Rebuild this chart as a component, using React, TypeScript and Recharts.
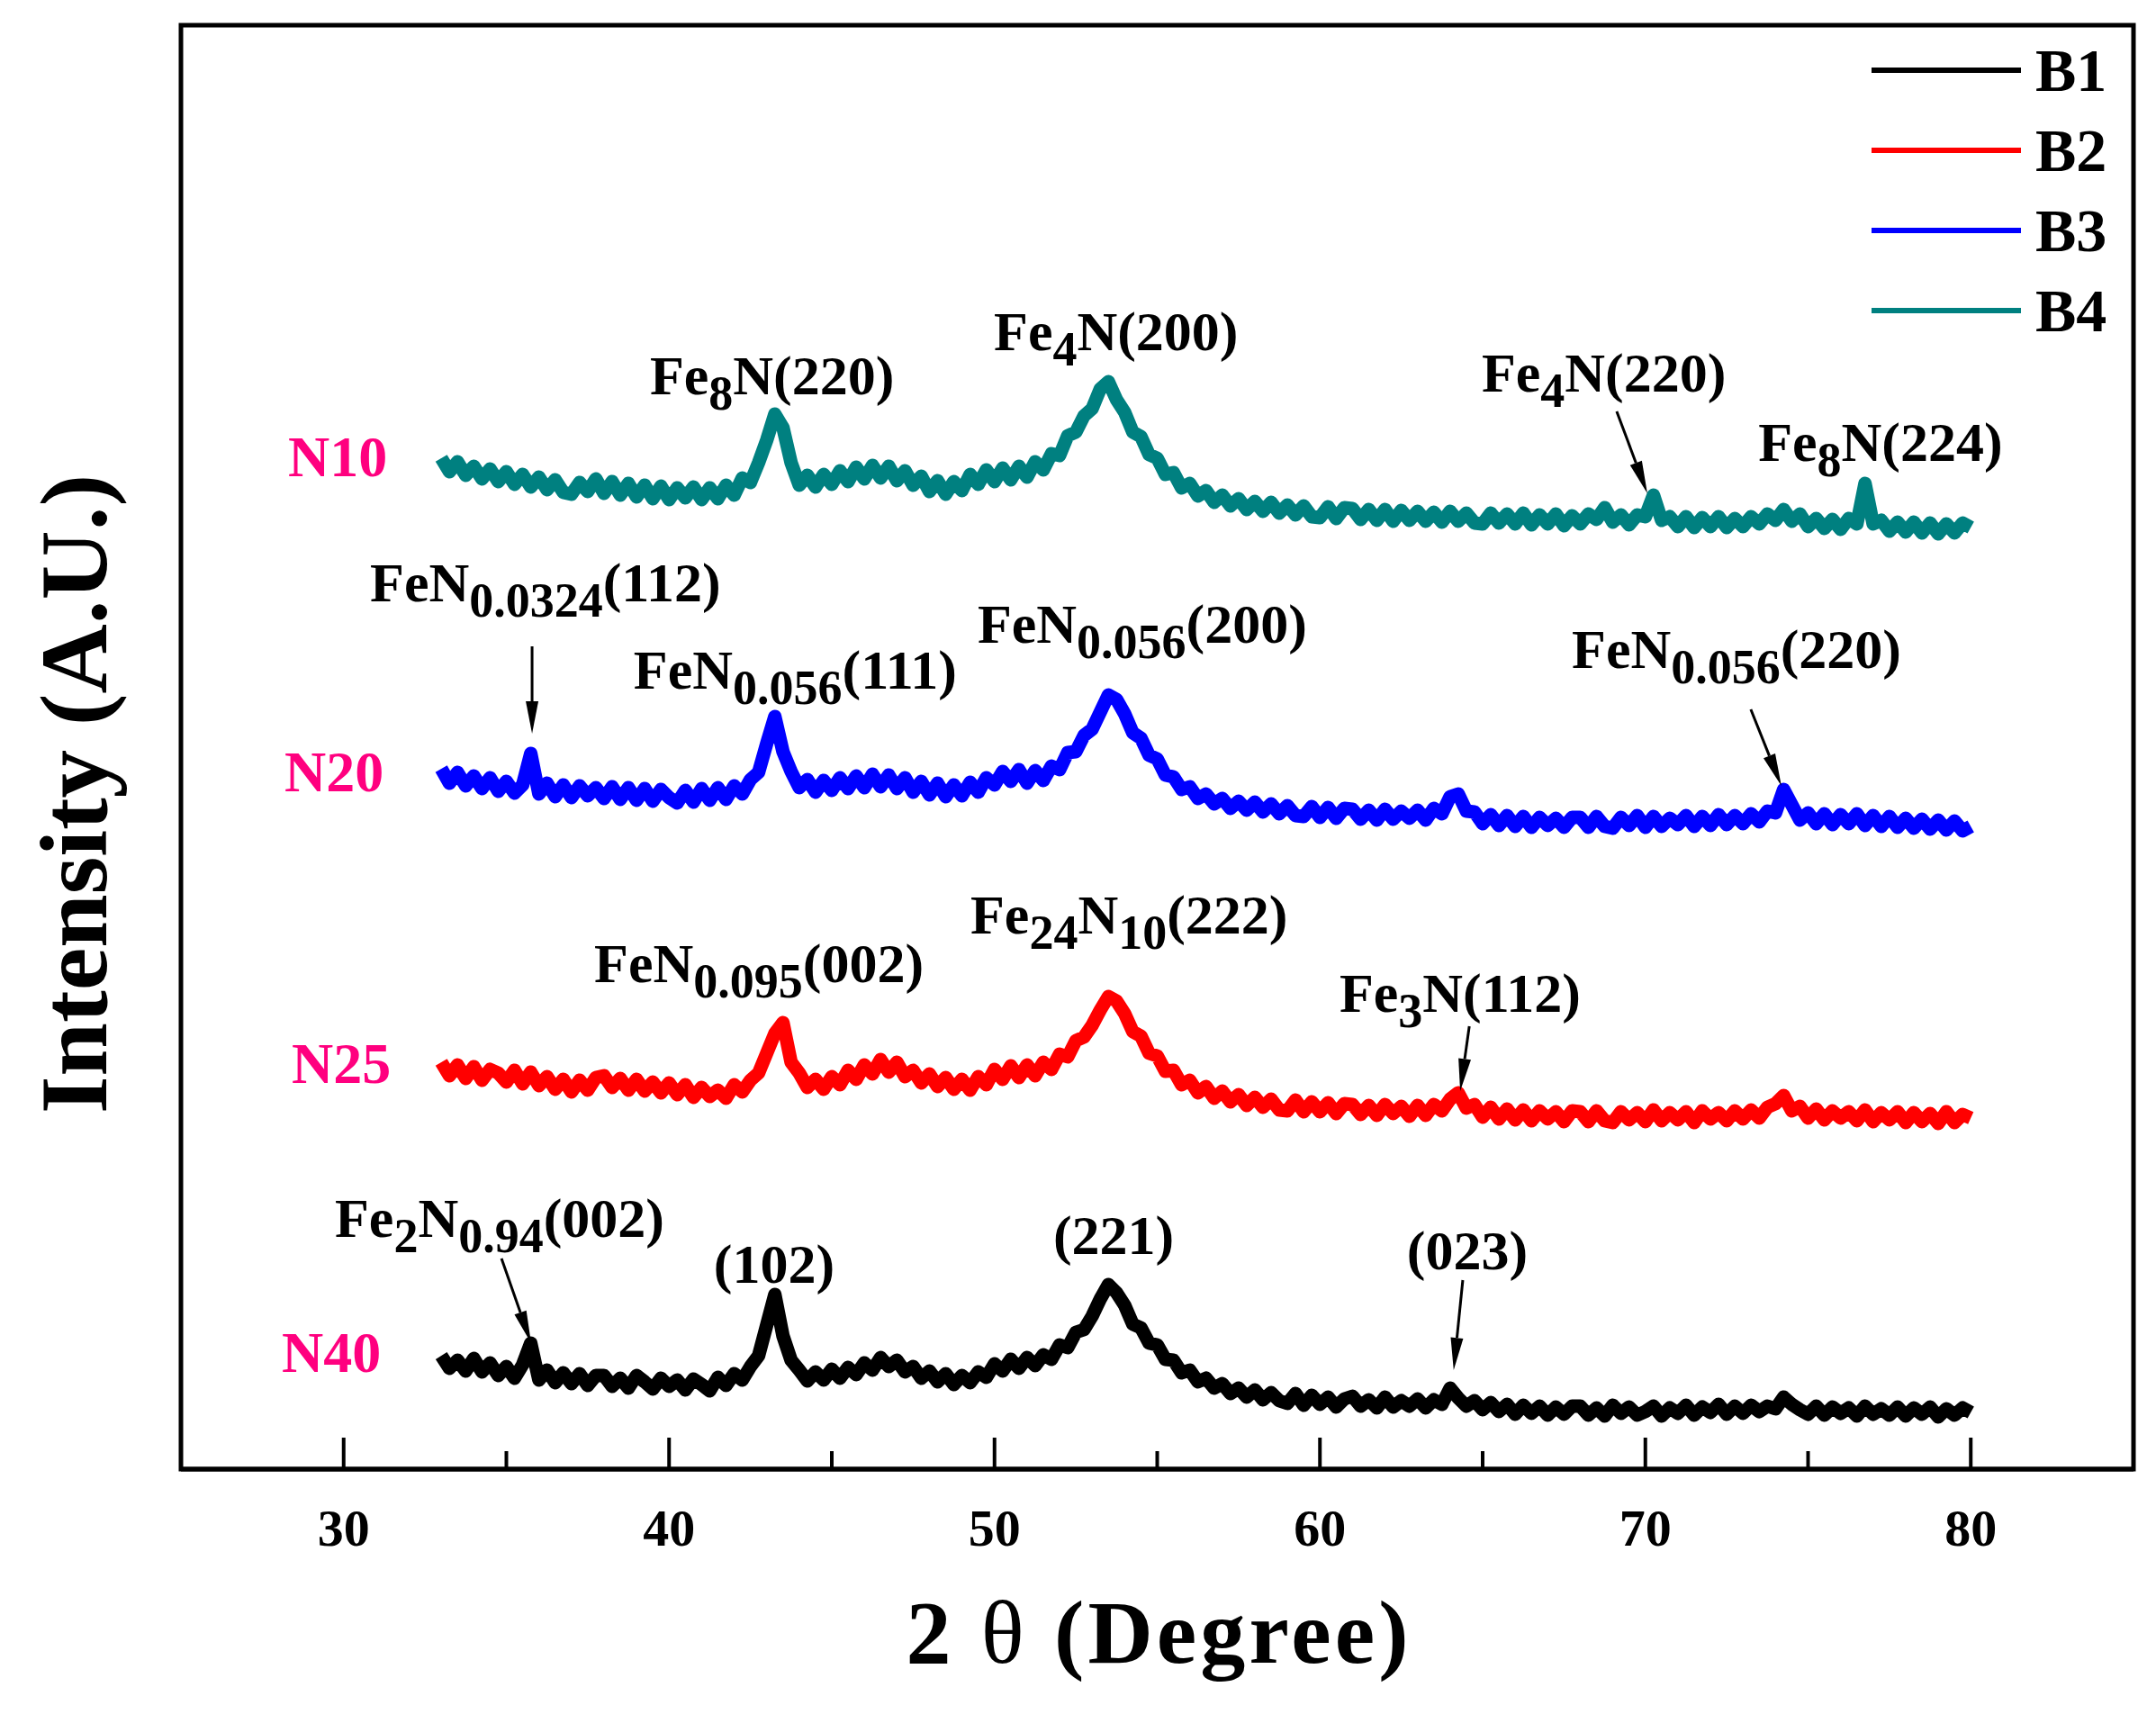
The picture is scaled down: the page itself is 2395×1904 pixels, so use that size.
import React from "react";
import {
  LineChart,
  Line,
  XAxis,
  YAxis,
  Legend,
  ReferenceArea,
  ReferenceDot,
  ReferenceLine,
} from "recharts";

// XRD patterns of the four nitrided samples. Intensity is in arbitrary
// units; the traces are stacked with a vertical offset, as in the figure.
const FONT = '"Liberation Serif", "Times New Roman", serif';

// 2θ grid: 33° .. 80° in 0.25° steps (189 points)
const TWO_THETA = Array.from({ length: 189 }, (_, i) => 33 + i * 0.25);

const B1 = [
  126, 112, 121, 109, 123, 108, 118, 104, 114, 101, 116, 140, 99, 110, 96, 107, 95, 106, 93, 104,
  104, 92, 101, 90, 104, 97, 89, 101, 92, 99, 88, 100, 94, 87, 102, 93, 106, 99, 114, 126,
  160, 194, 148, 121, 110, 98, 108, 99, 111, 101, 113, 105, 118, 110, 124, 114, 121, 108, 114, 101,
  109, 97, 106, 94, 104, 96, 108, 102, 117, 109, 122, 112, 124, 115, 127, 122, 138, 135, 152, 155,
  170, 189, 205, 196, 182, 161, 157, 140, 138, 122, 121, 107, 110, 97, 101, 90, 95, 84, 90, 80,
  88, 77, 85, 76, 73, 84, 71, 82, 72, 80, 69, 78, 81, 70, 77, 68, 80, 69, 76, 70,
  78, 68, 77, 72, 90, 79, 70, 76, 66, 74, 64, 72, 61, 71, 62, 70, 60, 69, 61, 70,
  70, 60, 68, 59, 71, 62, 69, 60, 64, 70, 59, 68, 62, 71, 60, 69, 63, 72, 61, 70,
  62, 71, 64, 70, 67, 80, 72, 66, 61, 70, 60, 69, 62, 68, 59, 70, 61, 67, 60, 69,
  59, 68, 61, 69, 58, 67, 60, 68, 63,
];

const B2 = [
  452, 437, 449, 434, 447, 432, 444, 440, 430, 443, 428, 441, 426, 436, 422, 433, 419, 432, 421, 435,
  437, 424, 434, 421, 433, 420, 430, 418, 429, 416, 427, 413, 424, 414, 421, 412, 427, 419, 432, 440,
  462, 484, 496, 452, 440, 424, 433, 422, 436, 427, 443, 433, 449, 439, 455, 441, 452, 436, 443, 429,
  439, 425, 435, 422, 433, 421, 436, 427, 444, 433, 448, 435, 449, 437, 452, 444, 461, 458, 476, 480,
  493, 510, 525, 520, 506, 486, 481, 462, 459, 442, 443, 427, 432, 418, 425, 412, 420, 408, 416, 404,
  413, 402, 411, 399, 398, 410, 397, 408, 397, 407, 395, 406, 405, 394, 404, 393, 405, 395, 403, 392,
  404, 393, 405, 398, 411, 418, 401, 405, 391, 402, 389, 400, 388, 399, 387, 398, 389, 397, 386, 398,
  397, 386, 398, 387, 385, 397, 388, 396, 386, 399, 387, 396, 388, 397, 385, 398, 389, 396, 387, 398,
  389, 399, 390, 402, 406, 415, 398, 403, 390, 400, 388, 398, 390, 397, 387, 399, 386, 396, 388, 397,
  385, 396, 386, 395, 384, 397, 385, 394, 390,
];

const B3 = [
  778, 762, 774, 759, 770, 756, 768, 753, 764, 751, 760, 795, 750, 762, 747, 760, 746, 759, 748, 757,
  745, 758, 744, 757, 743, 756, 742, 755, 746, 740, 754, 741, 756, 743, 757, 744, 759, 750, 766, 774,
  806, 836, 797, 775, 757, 766, 752, 765, 754, 768, 756, 770, 757, 772, 758, 771, 756, 768, 752, 764,
  749, 762, 747, 760, 748, 763, 752, 768, 760, 775, 764, 777, 762, 776, 765, 781, 777, 796, 797, 815,
  822, 841, 860, 855, 839, 818, 812, 793, 789, 771, 769, 755, 758, 745, 750, 739, 745, 734, 742, 732,
  741, 730, 739, 728, 737, 726, 725, 736, 724, 735, 723, 734, 733, 722, 732, 721, 733, 722, 731, 723,
  732, 721, 734, 728, 747, 750, 731, 730, 717, 727, 715, 726, 714, 725, 713, 724, 715, 723, 713, 724,
  724, 713, 725, 714, 712, 724, 715, 726, 713, 725, 714, 723, 716, 726, 714, 725, 715, 727, 716, 726,
  717, 728, 719, 731, 729, 755, 738, 721, 729, 717, 728, 716, 727, 717, 728, 715, 726, 714, 725, 713,
  723, 712, 722, 711, 721, 710, 720, 709, 714,
];

const B4 = [
  1123, 1108, 1119, 1104, 1114, 1100, 1111, 1097, 1108, 1094, 1105, 1091, 1102, 1088, 1099, 1085, 1083, 1096, 1086, 1100,
  1084, 1097, 1082, 1095, 1080, 1093, 1078, 1092, 1077, 1090, 1079, 1091, 1077, 1090, 1078, 1093, 1082, 1101, 1096, 1118,
  1143, 1172, 1157, 1118, 1093, 1104, 1091, 1105, 1094, 1109, 1097, 1113, 1100, 1115, 1101, 1114, 1098, 1109, 1093, 1103,
  1086, 1098, 1083, 1097, 1087, 1105, 1094, 1110, 1097, 1112, 1099, 1114, 1102, 1119, 1110, 1128, 1126, 1148, 1152, 1170,
  1178, 1200, 1208, 1188, 1174, 1152, 1147, 1127, 1123, 1105, 1107, 1090, 1095, 1081, 1087, 1074, 1082, 1070, 1078, 1066,
  1075, 1064, 1074, 1062, 1071, 1060, 1070, 1058, 1057, 1069, 1056, 1068, 1067, 1055, 1066, 1054, 1066, 1053, 1065, 1054,
  1064, 1053, 1063, 1052, 1064, 1053, 1062, 1051, 1050, 1062, 1051, 1061, 1050, 1062, 1049, 1060, 1050, 1061, 1048, 1059,
  1050, 1061, 1055, 1068, 1052, 1060, 1049, 1060, 1058, 1082, 1054, 1058, 1047, 1058, 1046, 1057, 1047, 1058, 1046, 1056,
  1047, 1058, 1050, 1061, 1054, 1066, 1053, 1061, 1047, 1056, 1045, 1055, 1044, 1056, 1050, 1095, 1050, 1054, 1042, 1052,
  1041, 1052, 1040, 1051, 1039, 1050, 1040, 1051, 1046,
];

const SERIES = [
  { key: "B1", values: B1, color: "#000000" },
  { key: "B2", values: B2, color: "#FF0000" },
  { key: "B3", values: B3, color: "#0000FF" },
  { key: "B4", values: B4, color: "#008080" },
];

const X_TICKS = [30, 35, 40, 45, 50, 55, 60, 65, 70, 75, 80];

// sample names next to each trace
const SAMPLE_LABELS = [
  { x: 28.29, y: 1103, text: "N10" },
  { x: 28.18, y: 753, text: "N20" },
  { x: 28.4, y: 429, text: "N25" },
  { x: 28.1, y: 108, text: "N40" },
];

// phase labels; _{..} marks a subscript
const PEAK_LABELS = [
  { x: 39.41, y: 1194, text: "Fe_{8}N(220)" },
  { x: 49.98, y: 1243, text: "Fe_{4}N(200)" },
  { x: 64.97, y: 1197, text: "Fe_{4}N(220)" },
  { x: 73.47, y: 1120, text: "Fe_{8}N(224)" },
  { x: 30.81, y: 964, text: "FeN_{0.0324}(112)" },
  { x: 38.91, y: 867, text: "FeN_{0.056}(111)" },
  { x: 49.48, y: 918, text: "FeN_{0.056}(200)" },
  { x: 67.74, y: 890, text: "FeN_{0.056}(220)" },
  { x: 37.7, y: 541, text: "FeN_{0.095}(002)" },
  { x: 49.26, y: 595, text: "Fe_{24}N_{10}(222)" },
  { x: 60.6, y: 508, text: "Fe_{3}N(112)" },
  { x: 29.73, y: 258, text: "Fe_{2}N_{0.94}(002)" },
  { x: 43.23, y: 207, text: "(102)", anchor: "middle" },
  { x: 53.66, y: 239, text: "(221)", anchor: "middle" },
  { x: 64.53, y: 222, text: "(023)", anchor: "middle" },
];

const ARROWS = [
  { from: [69.12, 1175], to: [70.06, 1084] },
  { from: [35.79, 914], to: [35.79, 817] },
  { from: [73.24, 844], to: [74.18, 759] },
  { from: [64.59, 492], to: [64.31, 420] },
  { from: [34.85, 234], to: [35.76, 140] },
  { from: [64.39, 210], to: [64.11, 110] },
];

const data = TWO_THETA.map((t, i) => {
  const row: Record<string, number> = { twoTheta: t };
  SERIES.forEach((s) => (row[s.key] = s.values[i]));
  return row;
});

function PeakText({ cx, cy, text, anchor }: any) {
  const pieces = text.split(/_\{([^}]*)\}/);
  let lowered = false;
  return (
    <text
      x={cx}
      y={cy}
      textAnchor={anchor ?? "start"}
      fontFamily={FONT}
      fontWeight="bold"
      fontSize={62}
      fill="#000"
    >
      {pieces.map((p: string, i: number) => {
        if (!p) return null;
        const sub = i % 2 === 1;
        let dy = 0;
        if (sub && !lowered) dy = 17;
        if (!sub && lowered) dy = -17;
        lowered = sub;
        return (
          <tspan key={i} dy={dy} fontSize={sub ? 54 : 62}>
            {p}
          </tspan>
        );
      })}
    </text>
  );
}

function Arrow({ x1, y1, x2, y2 }: any) {
  const ang = Math.atan2(y2 - y1, x2 - x1);
  const len = 36;
  const half = 7;
  const bx = x2 - len * Math.cos(ang);
  const by = y2 - len * Math.sin(ang);
  const nx = -Math.sin(ang) * half;
  const ny = Math.cos(ang) * half;
  return (
    <g>
      <line x1={x1} y1={y1} x2={bx} y2={by} stroke="#000" strokeWidth={3} />
      <polygon
        points={`${x2},${y2} ${bx + nx},${by + ny} ${bx - nx},${by - ny}`}
        fill="#000"
      />
    </g>
  );
}

function TwoThetaTick({ x, y, payload }: any) {
  const major = payload.value % 10 === 0;
  return (
    <g>
      <line x1={x} x2={x} y1={y} y2={y - (major ? 35 : 20)} stroke="#000" strokeWidth={4} />
      {major && (
        <text
          x={x}
          y={y + 85}
          textAnchor="middle"
          fontFamily={FONT}
          fontWeight="bold"
          fontSize={58}
          fill="#000"
        >
          {payload.value}
        </text>
      )}
    </g>
  );
}

function SeriesLegend({ payload }: any) {
  return (
    <div style={{ display: "flex", flexDirection: "column" }}>
      {(payload ?? []).map((p: any) => (
        <div key={p.value} style={{ height: 89, display: "flex", alignItems: "center" }}>
          <svg width={168} height={10} style={{ display: "block" }}>
            <line x1={0} x2={166} y1={5} y2={5} stroke={p.color} strokeWidth={6} />
          </svg>
          <span
            style={{
              marginLeft: 14,
              fontFamily: FONT,
              fontWeight: "bold",
              fontSize: 68,
              lineHeight: 1,
              color: "#000",
            }}
          >
            {p.value}
          </span>
        </div>
      ))}
    </div>
  );
}

export default function App() {
  return (
    <div style={{ position: "absolute", left: 0, top: 0, width: 2395, height: 1904, background: "#fff" }}>
      <LineChart
        width={2395}
        height={1904}
        data={data}
        margin={{ top: 28, right: 25, bottom: 172, left: 200 }}
      >
        <XAxis
          type="number"
          dataKey="twoTheta"
          domain={[25, 85]}
          ticks={X_TICKS}
          allowDataOverflow
          height={100}
          tickSize={0}
          tickMargin={0}
          tickLine={false}
          axisLine={{ stroke: "#000", strokeWidth: 5 }}
          tick={(props: any) => <TwoThetaTick {...props} />}
          label={{
            content: ({ viewBox }: any) => (
              <text
                x={viewBox.x + viewBox.width / 2}
                y={viewBox.y + 215}
                textAnchor="middle"
                fontFamily={FONT}
                fontWeight="bold"
                fontSize={100}
                textLength={558}
                lengthAdjust="spacing"
                fill="#000"
              >
                <tspan>2</tspan>
                <tspan fontWeight="normal"> θ</tspan>
                <tspan> (Degree)</tspan>
              </text>
            ),
          }}
        />
        <YAxis
          type="number"
          domain={[0, 1604]}
          allowDataOverflow
          width={1}
          axisLine={false}
          tickLine={false}
          tick={false}
          label={{
            content: ({ viewBox }: any) => {
              const x = viewBox.x - 82;
              const y = viewBox.y + 854;
              return (
                <text
                  x={x}
                  y={y}
                  transform={`rotate(-90, ${x}, ${y})`}
                  textAnchor="middle"
                  fontFamily={FONT}
                  fontWeight="bold"
                  fontSize={106}
                  textLength={710}
                  lengthAdjust="spacingAndGlyphs"
                  fill="#000"
                >
                  Intensity (A.U.)
                </text>
              );
            },
          }}
        />
        <ReferenceArea x1={25} x2={85} y1={0} y2={1604} fill="none" stroke="#000" strokeWidth={5} />
        {SERIES.map((s) => (
          <Line
            key={s.key}
            name={s.key}
            dataKey={s.key}
            type="linear"
            stroke={s.color}
            strokeWidth={15}
            strokeLinejoin="round"
            dot={false}
            activeDot={false}
            isAnimationActive={false}
          />
        ))}
        {ARROWS.map((a, i) => (
          <ReferenceLine
            key={`arrow-${i}`}
            segment={[
              { x: a.from[0], y: a.from[1] },
              { x: a.to[0], y: a.to[1] },
            ]}
            shape={(p: any) => <Arrow {...p} />}
          />
        ))}
        {PEAK_LABELS.map((l, i) => (
          <ReferenceDot
            key={`peak-${i}`}
            x={l.x}
            y={l.y}
            r={0}
            shape={(p: any) => <PeakText cx={p.cx} cy={p.cy} text={l.text} anchor={l.anchor} />}
          />
        ))}
        {SAMPLE_LABELS.map((l) => (
          <ReferenceDot
            key={l.text}
            x={l.x}
            y={l.y}
            r={0}
            shape={(p: any) => (
              <text
                x={p.cx}
                y={p.cy}
                fontFamily={FONT}
                fontWeight="bold"
                fontSize={64}
                fill="#FF007F"
              >
                {l.text}
              </text>
            )}
          />
        ))}
        <Legend
          layout="vertical"
          align="center"
          verticalAlign="middle"
          content={(props: any) => <SeriesLegend payload={props.payload} />}
          wrapperStyle={{ position: "absolute", left: 2079, top: 33, width: 330, margin: 0 }}
        />
      </LineChart>
    </div>
  );
}
